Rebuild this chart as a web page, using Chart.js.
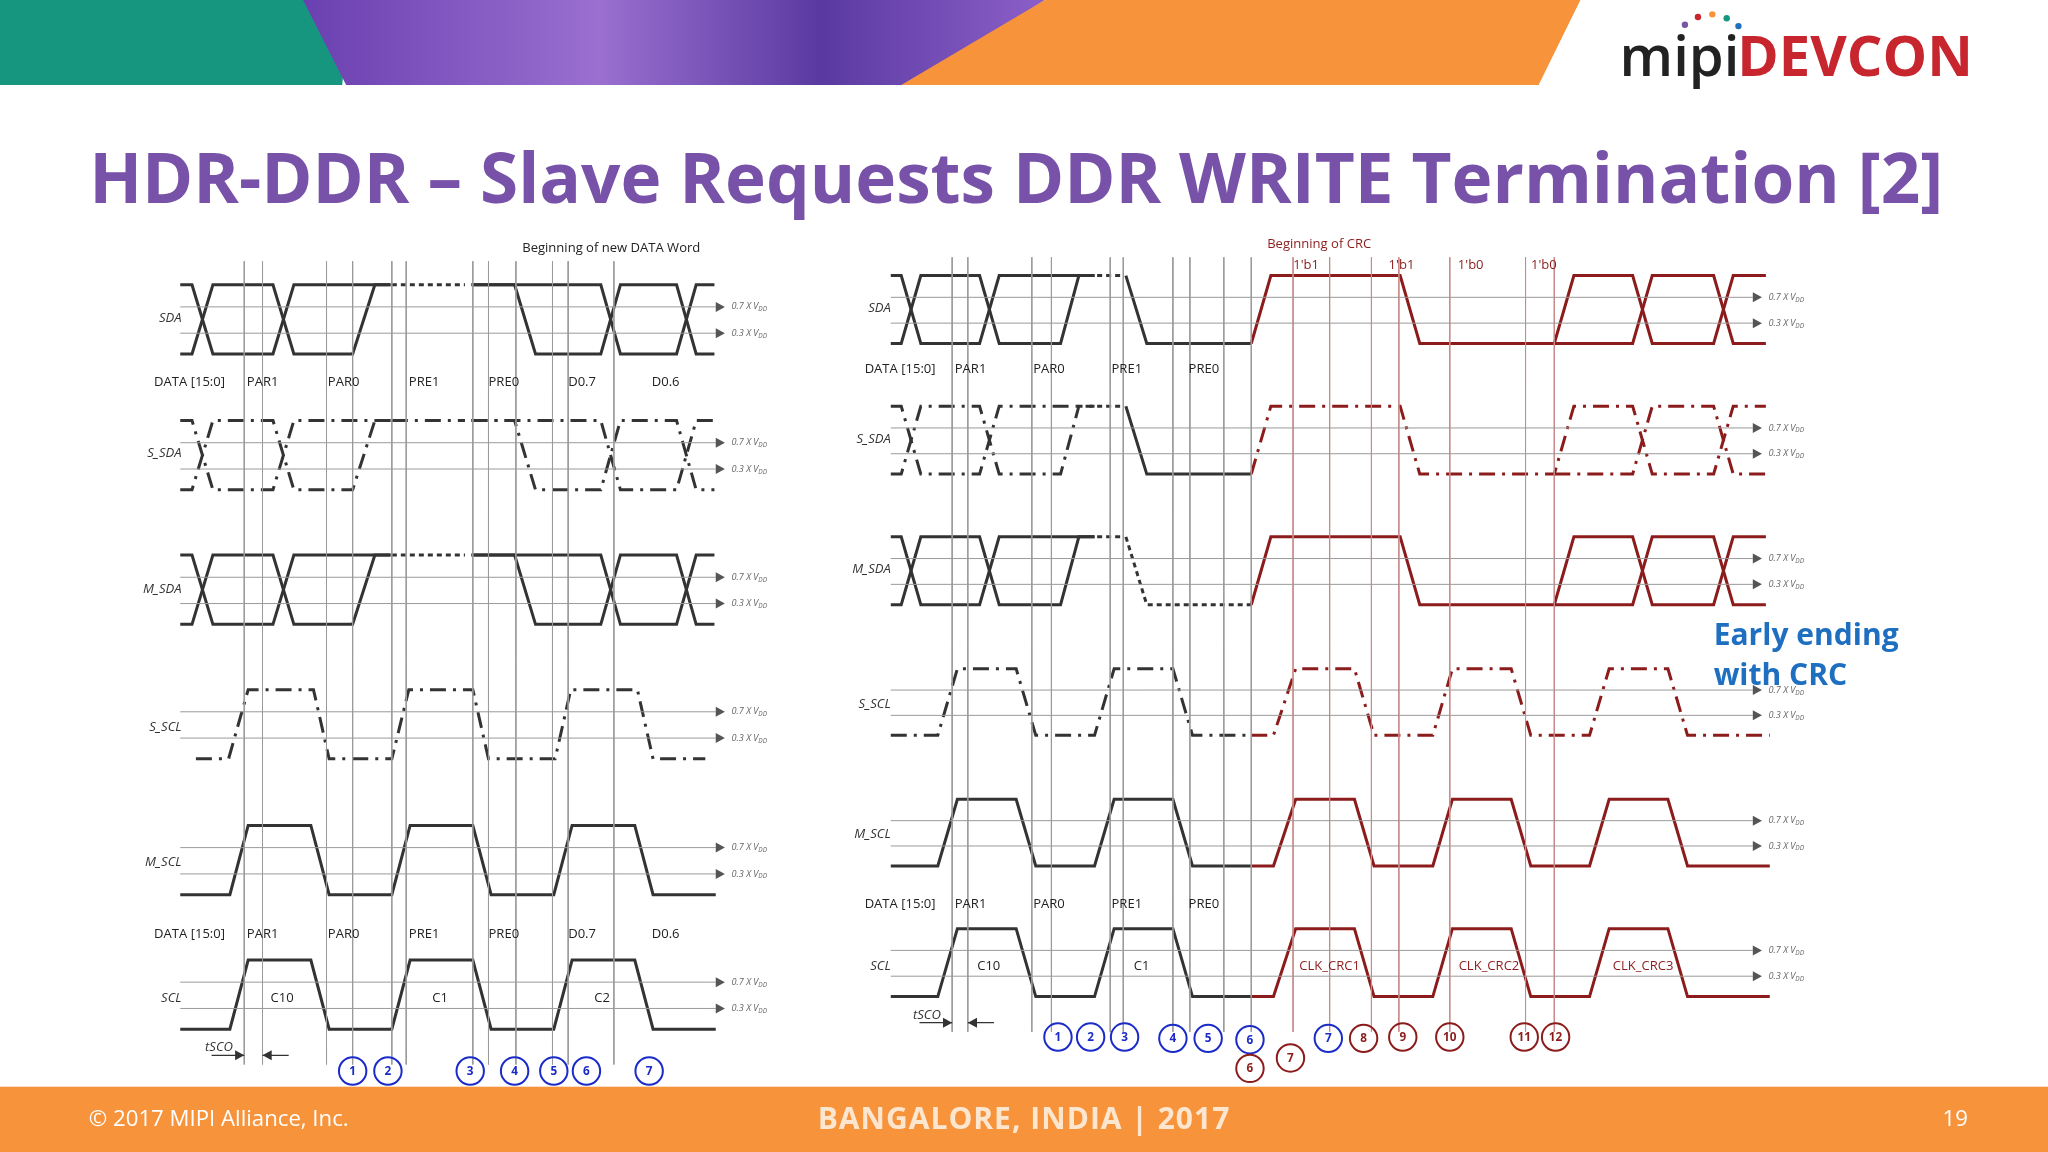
<!DOCTYPE html>
<html>
<head>
<meta charset="utf-8">
<script src="https://cdn.jsdelivr.net/npm/chart.js@4.4.1/dist/chart.umd.min.js"></script>
<style>
  html, body { margin: 0; padding: 0; background: #fff; }
  #c { display: block; }
</style>
</head>
<body>
<canvas id="c" width="2048" height="1152"></canvas>
<script>
// 参照画像の座標系 (1568 x 882) で値を持つ
// 波形: [x, レベル, x, レベル, ...]  レベル 1 = High, 0 = Low

// ---- 左パネル ----
const leftLanes = {
  SDA:   { hi: 218, lo: 271 },
  S_SDA: { hi: 322, lo: 375 },
  M_SDA: { hi: 425, lo: 478 },
  S_SCL: { hi: 528, lo: 581 },
  M_SCL: { hi: 632, lo: 685 },
  SCL:   { hi: 735, lo: 788 }
};
const leftBusA   = [138,1, 147,1, 163,0, 209,0, 225,1, 299,1];
const leftBusB   = [138,0, 147,0, 163,1, 209,1, 225,0, 270,0, 287,1, 299,1];
const leftBusDot = [300,1, 356,1];
const leftBusC   = [361,1, 394,1, 410,0, 460,0, 475,1, 518,1, 533,0, 547,0];
const leftBusD   = [361,1, 460,1, 475,0, 518,0, 533,1, 547,1];
const leftSlaveScl = [150,0, 175,0, 190,1, 240,1, 252,0, 300,0, 313,1, 362,1, 374,0, 425,0, 437,1, 488,1, 500,0, 540,0];
const leftScl      = [138,0, 176,0, 190,1, 238,1, 252,0, 300,0, 314,1, 362,1, 376,0, 424,0, 438,1, 486,1, 500,0, 548,0];
const leftVLines = [187, 201, 250, 270, 300, 311, 362, 374, 395, 423, 435, 470];
const leftDataLabels = ['PAR1', 'PAR0', 'PRE1', 'PRE0', 'D0.7', 'D0.6'];
const leftDataX = [189, 251, 313, 374, 435, 499];
const leftClkLabels = ['C10', 'C1', 'C2'];
const leftClkX = [216, 337, 461];
const leftCircles = ['1', '2', '3', '4', '5', '6', '7'];
const leftCircleX = [270, 297, 360, 394, 424, 449, 497];

// ---- 右パネル ----
const rightLanes = {
  SDA:   { hi: 211, lo: 263 },
  S_SDA: { hi: 311, lo: 363 },
  M_SDA: { hi: 411, lo: 463 },
  S_SCL: { hi: 512, lo: 563 },
  M_SCL: { hi: 612, lo: 663 },
  SCL:   { hi: 711, lo: 763 }
};
const rightBusA   = [682,1, 690,1, 705,0, 750,0, 765,1, 838,1];
const rightBusB   = [682,0, 690,0, 705,1, 750,1, 765,0, 812,0, 826,1, 838,1];
const rightBusDot = [840,1, 860,1];
const rightBusFall = [862,1, 878,0, 958,0];
const rightCrcA   = [958,0, 973,1, 1072,1, 1087,0, 1190,0, 1205,1, 1250,1, 1265,0, 1312,0, 1327,1, 1352,1];
const rightCrcB   = [1190,0, 1250,0, 1265,1, 1312,1, 1327,0, 1352,0];
const rightScl    = [682,0, 718,0, 733,1, 778,1, 793,0, 838,0, 853,1, 898,1, 913,0, 958,0];
const rightCrcScl = [958,0, 975,0, 992,1, 1037,1, 1052,0, 1097,0, 1112,1, 1157,1, 1172,0, 1217,0, 1232,1, 1277,1, 1292,0, 1355,0];
const rightVLines = [729, 741, 790, 805, 850, 860, 898, 911, 937, 958];
const rightRedVLines = [990, 1018, 1050, 1071, 1110, 1168, 1190];
const rightDataLabels = ['PAR1', 'PAR0', 'PRE1', 'PRE0'];
const rightDataX = [731, 791, 851, 910];
const rightClkLabels = ['C10', 'C1', 'CLK_CRC1', 'CLK_CRC2', 'CLK_CRC3'];
const rightClkX = [757, 874, 1018, 1140, 1258];
const crcBitLabels = ["1'b1", "1'b1", "1'b0", "1'b0"];
const crcBitX = [1000, 1073, 1126, 1182];
const rightBlueCircles = ['1', '2', '3', '4', '5', '6', '7'];
const rightBlueX = [810, 835, 861, 898, 925, 957, 1017];
const rightBlueY = [794, 794, 794, 795, 795, 796, 795];
const rightRedCircles = ['6', '7', '8', '9', '10', '11', '12'];
const rightRedX = [957, 988, 1044, 1074, 1110, 1167, 1191];
const rightRedY = [818, 810, 795, 794, 794, 794, 794];

const BLACK = '#333333';
const RED = '#8c1c1c';
const GREY = '#9a9a9a';
const BLUE = '#1a2bc8';
const K = 2048 / 1568;

function wave(flat, lane) {
  const pts = [];
  for (let i = 0; i < flat.length; i += 2) {
    pts.push({ x: flat[i], y: lane.lo + flat[i + 1] * (lane.hi - lane.lo) });
  }
  return pts;
}
function thr(lane) {
  const h = lane.lo - lane.hi;
  return [lane.hi + h * 0.32, lane.hi + h * 0.7];
}

const datasets = [];
function line(data, color, width, dash) {
  datasets.push({ data, borderColor: color, borderWidth: width, borderDash: dash || [], pointRadius: 0, fill: false, tension: 0, showLine: true });
}
const DASH = [16, 7, 3, 7];

// 横の閾値線
Object.values(leftLanes).forEach(l => thr(l).forEach(y => line([{x:138,y},{x:548,y}], GREY, 1)));
Object.values(rightLanes).forEach(l => thr(l).forEach(y => line([{x:682,y},{x:1342,y}], GREY, 1)));
// 縦線
leftVLines.forEach(x => line([{x,y:200},{x,y:815}], GREY, 1));
rightVLines.forEach(x => line([{x,y:197},{x,y:790}], GREY, 1));
rightRedVLines.forEach(x => line([{x,y:197},{x,y:790}], '#c98a8a', 1));

// 左パネル波形
[['SDA', []], ['S_SDA', DASH], ['M_SDA', []]].forEach(([n, d]) => {
  const l = leftLanes[n];
  [leftBusA, leftBusB, leftBusC, leftBusD].forEach(w => line(wave(w, l), BLACK, 3, d));
  line(wave(leftBusDot, l), BLACK, 3, n === 'S_SDA' ? DASH : [5, 4]);
});
line(wave(leftSlaveScl, leftLanes.S_SCL), BLACK, 3, DASH);
line(wave(leftScl, leftLanes.M_SCL), BLACK, 3);
line(wave(leftScl, leftLanes.SCL), BLACK, 3);

// 右パネル波形
[['SDA', []], ['S_SDA', DASH], ['M_SDA', []]].forEach(([n, d]) => {
  const l = rightLanes[n];
  [rightBusA, rightBusB].forEach(w => line(wave(w, l), BLACK, 3, d));
  line(wave(rightBusDot, l), BLACK, 3, [5, 4]);
  line(wave(rightBusFall, l), BLACK, 3, n === 'M_SDA' ? [5, 4] : []);
  [rightCrcA, rightCrcB].forEach(w => line(wave(w, l), RED, 3, d));
});
line(wave(rightScl, rightLanes.S_SCL), BLACK, 3, DASH);
line(wave(rightCrcScl, rightLanes.S_SCL), RED, 3, DASH);
[rightLanes.M_SCL, rightLanes.SCL].forEach(l => {
  line(wave(rightScl, l), BLACK, 3);
  line(wave(rightCrcScl, l), RED, 3);
});

// 装飾・文字
const deco = {
  id: 'deco',
  beforeDatasetsDraw(chart) {
    const ctx = chart.ctx;
    const sx = chart.scales.x, sy = chart.scales.y;
    const X = v => sx.getPixelForValue(v), Y = v => sy.getPixelForValue(v);
    ctx.save();
    // ヘッダー
    ctx.fillStyle = '#17967f';
    ctx.beginPath(); ctx.moveTo(X(0), Y(0)); ctx.lineTo(X(268), Y(0)); ctx.lineTo(X(262), Y(65)); ctx.lineTo(X(0), Y(65)); ctx.fill();
    const g = ctx.createLinearGradient(X(230), 0, X(800), 0);
    g.addColorStop(0, '#6a3fb0'); g.addColorStop(0.4, '#9a6fd0'); g.addColorStop(0.7, '#5a3aa0'); g.addColorStop(1, '#8c5fc8');
    ctx.fillStyle = g;
    ctx.beginPath(); ctx.moveTo(X(232), Y(0)); ctx.lineTo(X(800), Y(0)); ctx.lineTo(X(700), Y(65)); ctx.lineTo(X(265), Y(65)); ctx.fill();
    ctx.fillStyle = '#f7943b';
    ctx.beginPath(); ctx.moveTo(X(800), Y(0)); ctx.lineTo(X(1210), Y(0)); ctx.lineTo(X(1178), Y(65)); ctx.lineTo(X(690), Y(65)); ctx.fill();
    // フッター
    ctx.fillStyle = '#f7943b';
    ctx.fillRect(X(0), Y(832), X(1568) - X(0), Y(882) - Y(832));
    ctx.restore();
  },
  afterDatasetsDraw(chart) {
    const ctx = chart.ctx;
    const sx = chart.scales.x, sy = chart.scales.y;
    const X = v => sx.getPixelForValue(v), Y = v => sy.getPixelForValue(v);
    function txt(s, x, y, size, color, opt) {
      opt = opt || {};
      ctx.font = (opt.style || '') + ' ' + (opt.weight || 'normal') + ' ' + (size * K) + 'px ' + (opt.family || '"Open Sans", "Liberation Sans", sans-serif');
      ctx.fillStyle = color;
      ctx.textAlign = opt.align || 'left';
      ctx.textBaseline = 'middle';
      ctx.fillText(s, X(x), Y(y));
    }
    ctx.save();
    // ロゴ
    txt('mipi', 1240, 46, 43, '#222', { weight: '600' });
    txt('DEVCON', 1330, 46, 43, '#c8262f', { weight: 'bold' });
    [[1300, 13, '#c8262f'], [1311, 11, '#f7943b'], [1322, 14, '#17967f'], [1290, 19, '#7a55a8'], [1331, 20, '#1f6fc0']].forEach(([x, y, c]) => {
      ctx.fillStyle = c; ctx.beginPath(); ctx.arc(X(x), Y(y), 3.2, 0, Math.PI * 2); ctx.fill();
    });
    // タイトル
    txt('HDR-DDR – Slave Requests DDR WRITE Termination [2]', 778, 140, 53, '#7752a8', { weight: 'bold', align: 'center' });
    // フッター文字
    txt('© 2017 MIPI Alliance, Inc.', 68, 857, 17, '#fff');
    ctx.letterSpacing = '1px';
    txt('BANGALORE, INDIA | 2017', 784, 858, 23, '#fde6cf', { weight: 'bold', align: 'center' });
    ctx.letterSpacing = '0px';
    txt('19', 1497, 857, 17, '#fff', { align: 'center' });

    // 閾値矢印とラベル
    function arrows(lanes, ax) {
      Object.values(lanes).forEach(l => {
        const t = thr(l);
        ['0.7', '0.3'].forEach((v, i) => {
          const y = t[i];
          ctx.fillStyle = '#555';
          ctx.beginPath(); ctx.moveTo(X(ax + 7), Y(y)); ctx.lineTo(X(ax), Y(y) - 5); ctx.lineTo(X(ax), Y(y) + 5); ctx.fill();
          txt(v + ' X V', ax + 12, y, 7, '#666', { style: 'italic' });
          const w2 = ctx.measureText(v + ' X V').width;
          ctx.font = 'italic ' + (5 * K) + 'px "Open Sans", sans-serif';
          ctx.textAlign = 'left';
          ctx.fillText('DD', X(ax + 12) + w2, Y(y + 2));
        });
      });
    }
    arrows(leftLanes, 548);
    arrows(rightLanes, 1342);

    // 信号名
    const ital = { style: 'italic', align: 'right' };
    [['SDA', 244], ['S_SDA', 347], ['M_SDA', 451], ['S_SCL', 557], ['M_SCL', 660], ['SCL', 764]].forEach(([n, y]) => txt(n, 139, y, 10, '#333', ital));
    [['SDA', 236], ['S_SDA', 336], ['M_SDA', 436], ['S_SCL', 539], ['M_SCL', 639], ['SCL', 740]].forEach(([n, y]) => txt(n, 682, y, 10, '#333', ital));

    // DATA 行
    [293, 715].forEach(y => {
      txt('DATA [15:0]', 118, y, 10, '#222');
      leftDataLabels.forEach((s, i) => txt(s, leftDataX[i], y, 10, '#222'));
    });
    [283, 692].forEach(y => {
      txt('DATA [15:0]', 662, y, 10, '#222');
      rightDataLabels.forEach((s, i) => txt(s, rightDataX[i], y, 10, '#222'));
    });
    leftClkLabels.forEach((s, i) => txt(s, leftClkX[i], 764, 10, '#222', { align: 'center' }));
    rightClkLabels.forEach((s, i) => txt(s, rightClkX[i], 740, 10, i < 2 ? '#222' : RED, { align: 'center' }));

    txt('Beginning of new DATA Word', 468, 190, 10, '#222', { align: 'center' });
    txt('Beginning of CRC', 1010, 187, 10, RED, { align: 'center' });
    crcBitLabels.forEach((s, i) => txt(s, crcBitX[i], 203, 10, RED, { align: 'center' }));
    txt('Early ending', 1312, 487, 23, '#1f6fc0', { weight: 'bold' });
    txt('with CRC', 1312, 518, 23, '#1f6fc0', { weight: 'bold' });

    // tSCO
    function tsco(x1, x2, y, lx) {
      txt('tSCO', lx, y - 6, 10, '#333', { style: 'italic' });
      ctx.strokeStyle = '#333'; ctx.lineWidth = 1.3; ctx.fillStyle = '#333';
      ctx.beginPath(); ctx.moveTo(X(x1 - 25), Y(y)); ctx.lineTo(X(x1), Y(y)); ctx.moveTo(X(x2), Y(y)); ctx.lineTo(X(x2 + 20), Y(y)); ctx.stroke();
      ctx.beginPath(); ctx.moveTo(X(x1), Y(y)); ctx.lineTo(X(x1 - 7), Y(y) - 5); ctx.lineTo(X(x1 - 7), Y(y) + 5); ctx.fill();
      ctx.beginPath(); ctx.moveTo(X(x2), Y(y)); ctx.lineTo(X(x2 + 7), Y(y) - 5); ctx.lineTo(X(x2 + 7), Y(y) + 5); ctx.fill();
    }
    tsco(187, 201, 808, 157);
    tsco(729, 741, 783, 699);

    // 丸数字
    function circ(s, x, y, color) {
      ctx.strokeStyle = color; ctx.lineWidth = 2;
      ctx.beginPath(); ctx.arc(X(x), Y(y), 10.5 * K, 0, Math.PI * 2); ctx.stroke();
      txt(s, x, y + 0.5, 9, color, { weight: 'bold', align: 'center' });
    }
    leftCircles.forEach((s, i) => circ(s, leftCircleX[i], 820, BLUE));
    rightBlueCircles.forEach((s, i) => circ(s, rightBlueX[i], rightBlueY[i], BLUE));
    rightRedCircles.forEach((s, i) => circ(s, rightRedX[i], rightRedY[i], RED));
    ctx.restore();
  }
};

new Chart(document.getElementById('c'), {
  type: 'scatter',
  data: { datasets },
  options: {
    responsive: false,
    animation: false,
    devicePixelRatio: 1,
    layout: { padding: 0 },
    plugins: { legend: { display: false }, tooltip: { enabled: false } },
    scales: {
      x: { type: 'linear', min: 0, max: 1568, display: false },
      y: { type: 'linear', min: 0, max: 882, reverse: true, display: false }
    }
  },
  plugins: [deco]
});
</script>
</body>
</html>
